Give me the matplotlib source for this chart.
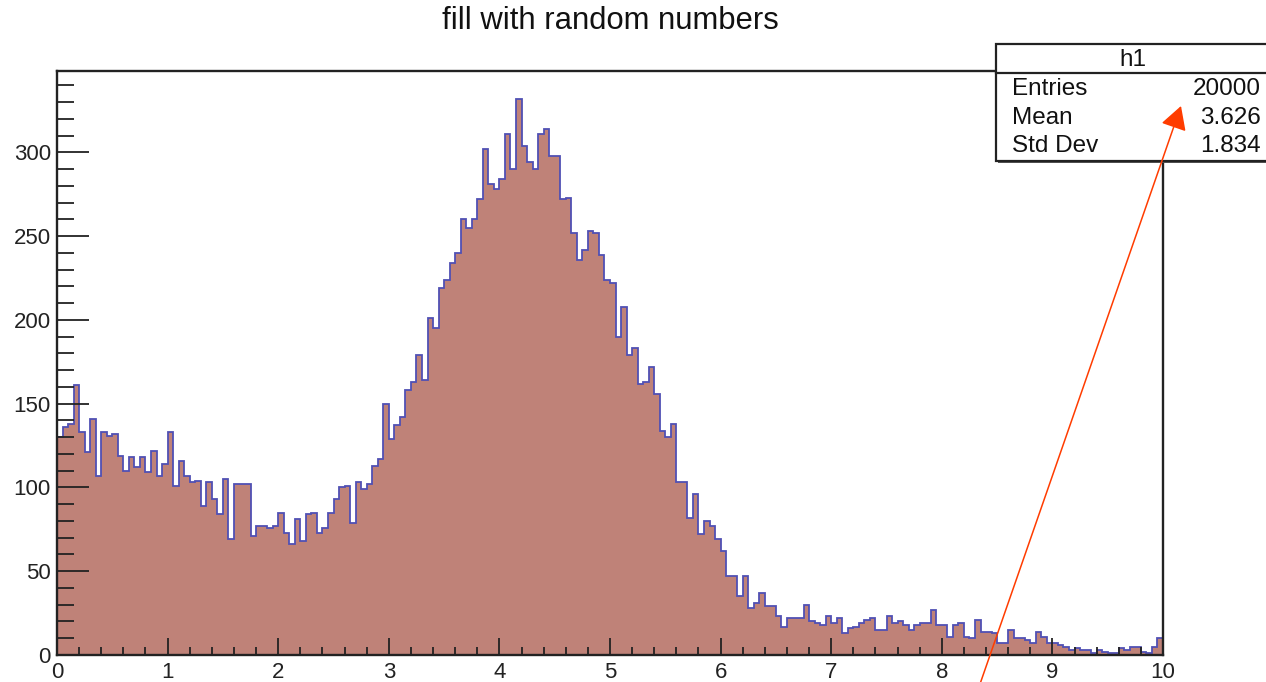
import numpy as np
import matplotlib.pyplot as plt
from matplotlib.patches import Rectangle, FancyArrowPatch, ArrowStyle
from matplotlib.lines import Line2D

plt.rcParams['font.family'] = ['Liberation Sans', 'DejaVu Sans']

# 200 bins from 0 to 10
edges = np.linspace(0, 10, 201)
counts = [130, 136, 138, 161, 133, 121, 141, 107, 133, 131,
          132, 119, 110, 118, 112, 118, 109, 122, 107, 114,
          133, 101, 116, 107, 103, 104, 89, 103, 93, 84,
          105, 69, 102, 102, 102, 71, 77, 77, 76, 77,
          85, 73, 66, 81, 68, 84, 85, 73, 76, 85,
          93, 100, 101, 79, 103, 99, 102, 113, 117, 150,
          129, 137, 142, 158, 163, 179, 164, 201, 195, 219,
          224, 234, 240, 260, 255, 260, 272, 302, 281, 278,
          284, 311, 290, 332, 304, 294, 290, 311, 314, 298,
          298, 272, 273, 252, 236, 242, 253, 252, 239, 224,
          222, 190, 208, 179, 183, 162, 163, 172, 156, 134,
          130, 138, 103, 103, 82, 96, 72, 80, 77, 69,
          62, 47, 47, 35, 47, 28, 31, 37, 29, 29,
          23, 17, 22, 22, 22, 30, 20, 19, 18, 23,
          19, 22, 13, 16, 17, 19, 21, 22, 15, 15,
          23, 19, 20, 18, 15, 18, 19, 19, 27, 18,
          18, 11, 18, 19, 11, 10, 21, 14, 14, 13,
          7, 7, 15, 10, 10, 9, 7, 14, 11, 7,
          7, 6, 5, 3, 4, 3, 3, 1, 3, 2,
          1, 1, 4, 3, 5, 5, 2, 1, 5, 10]

title = 'fill with random numbers'
stat_names = ['Entries', 'Mean', 'Std Dev']
stat_values = ['20000', '3.626', '1.834']

W, H = 1266, 682


def fx(x):
    return x / W


def fy(y):
    return 1 - y / H


fig = plt.figure(figsize=(W / 100, H / 100), dpi=100)
ax = fig.add_axes([fx(57), fy(655), (1163 - 57) / W, (655 - 71) / H])

ax.stairs(counts, edges, fill=True, color='#bf8278')
ax.stairs(counts, edges, color='#5050b4', lw=1.3, baseline=0)

ax.set_xlim(0, 10)
ax.set_ylim(0, 1.05 * max(counts))
ax.set_xticks(np.arange(0, 11, 1))
ax.set_xticks(np.arange(0, 10.01, 0.2), minor=True)
ax.set_yticks(np.arange(0, 301, 50))
ax.set_yticks(np.arange(0, 341, 10), minor=True)
ax.tick_params(which='both', direction='in', labelsize=16, width=1.3, colors='#222222')
ax.tick_params(axis='y', which='major', length=23, pad=4.5)
ax.tick_params(axis='y', which='minor', length=12)
ax.tick_params(axis='x', which='major', length=12, pad=5)
ax.tick_params(axis='x', which='minor', length=6)
for s in ax.spines.values():
    s.set_linewidth(1.7)
    s.set_color('#222222')

fig.text(fx(610), fy(21), title, ha='center', va='center', fontsize=22.3, color='#111111')

# stats box (runs off the right edge like the reference)
bx0, bx1, by0, by1 = 996, 1272, 44, 161
fig.add_artist(Rectangle((fx(bx0 + 2), fy(by1 + 2)), (bx1 - bx0) / W, (by1 - by0) / H,
                         transform=fig.transFigure, facecolor='#555555', edgecolor='none'))
fig.add_artist(Rectangle((fx(bx0), fy(by1)), (bx1 - bx0) / W, (by1 - by0) / H,
                         transform=fig.transFigure, facecolor='white', edgecolor='#222222', lw=1.6))
fig.add_artist(Line2D([fx(bx0), fx(bx1)], [fy(73), fy(73)], transform=fig.transFigure,
                      color='#222222', lw=1.6))
fig.text(fx(1133), fy(60), 'h1', ha='center', va='center', fontsize=17.5, color='#111111')
for i, (n, v) in enumerate(zip(stat_names, stat_values)):
    yy = 89 + i * 28.5
    fig.text(fx(1012), fy(yy), n, ha='left', va='center', fontsize=17.5, color='#111111')
    fig.text(fx(1261), fy(yy), v, ha='right', va='center', fontsize=17.5, color='#111111')

# red arrow pointing at the stats box
arrow = FancyArrowPatch((fx(980), fy(684)), (fx(1181), fy(106)), transform=fig.transFigure,
                        arrowstyle=ArrowStyle('-|>', head_length=0.8, head_width=0.45),
                        mutation_scale=18, color='#ff3c00', lw=1.1, shrinkA=0, shrinkB=0)
fig.add_artist(arrow)

fig.savefig('out.png', dpi=100)
